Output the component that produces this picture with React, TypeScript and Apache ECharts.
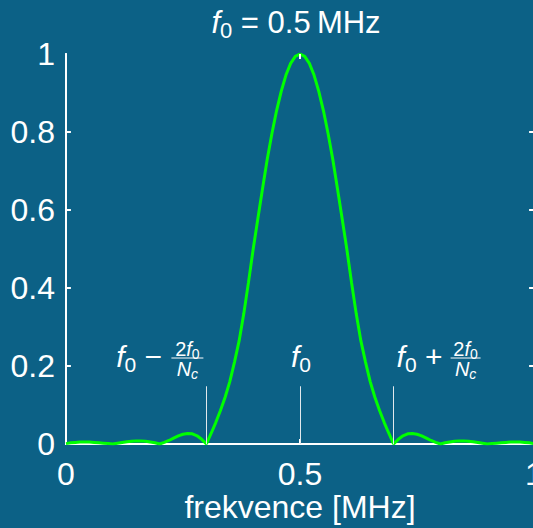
import React, { useEffect, useRef } from "react";
import * as echarts from "echarts";

// frequency samples [MHz]
const freq = [
  0.0, 0.01, 0.02, 0.03, 0.04, 0.05, 0.06, 0.07, 0.08, 0.09,
  0.1, 0.11, 0.12, 0.13, 0.14, 0.15, 0.16, 0.17, 0.18, 0.19,
  0.2, 0.21, 0.22, 0.23, 0.24, 0.25, 0.26, 0.27, 0.28, 0.29,
  0.3, 0.31, 0.32, 0.33, 0.34, 0.35, 0.36, 0.37, 0.38, 0.39,
  0.4, 0.41, 0.42, 0.43, 0.44, 0.45, 0.46, 0.47, 0.48, 0.49,
  0.5, 0.51, 0.52, 0.53, 0.54, 0.55, 0.56, 0.57, 0.58, 0.59,
  0.6, 0.61, 0.62, 0.63, 0.64, 0.65, 0.66, 0.67, 0.68, 0.69,
  0.7, 0.71, 0.72, 0.73, 0.74, 0.75, 0.76, 0.77, 0.78, 0.79,
  0.8, 0.81, 0.82, 0.83, 0.84, 0.85, 0.86, 0.87, 0.88, 0.89,
  0.9, 0.91, 0.92, 0.93, 0.94, 0.95, 0.96, 0.97, 0.98, 0.99,
  1.0,
];

// normalised spectrum magnitude
const spectrum = [
  0.001, 0.003, 0.004, 0.005, 0.005, 0.005, 0.004, 0.003, 0.002, 0.001,
  0.0, 0.002, 0.004, 0.006, 0.007, 0.008, 0.008, 0.007, 0.005, 0.003,
  0.0, 0.004, 0.009, 0.015, 0.021, 0.025, 0.027, 0.026, 0.021, 0.012,
  0.0, 0.027, 0.055, 0.086, 0.12, 0.16, 0.21, 0.265, 0.335, 0.415,
  0.5, 0.578, 0.655, 0.73, 0.796, 0.855, 0.905, 0.946, 0.976, 0.994,
  1.0, 0.994, 0.976, 0.946, 0.905, 0.855, 0.796, 0.73, 0.655, 0.578,
  0.5, 0.415, 0.335, 0.265, 0.21, 0.16, 0.12, 0.086, 0.055, 0.027,
  0.0, 0.012, 0.021, 0.026, 0.027, 0.025, 0.021, 0.015, 0.009, 0.004,
  0.0, 0.003, 0.005, 0.007, 0.008, 0.008, 0.007, 0.006, 0.004, 0.002,
  0.0, 0.001, 0.002, 0.003, 0.004, 0.005, 0.005, 0.005, 0.004, 0.003,
  0.001,
];

const xTickValues = [0, 0.5, 1];
const xTickLabels = ["0", "0.5", "1"];
const yTickValues = [0, 0.2, 0.4, 0.6, 0.8, 1];
const yTickLabels = ["0", "0.2", "0.4", "0.6", "0.8", "1"];
const markerFreqs = [0.3, 0.5, 0.7];
const markerHeight = 0.148;
const labelLevel = 0.2;
const titleFreq = "0.5";
const xName = "frekvence [MHz]";

const BG = "#0c6186";
const FONT = '"Liberation Sans", Arial, Helvetica, sans-serif';
const TICK_X = 0.0105; // inward tick length along x (data units)
const TICK_Y = 0.013; // inward tick length along y (data units)

type Tok = { t: string; size: number; italic?: boolean; dy?: number };

export default function App() {
  const ref = useRef<HTMLDivElement>(null);

  useEffect(() => {
    document.body.style.margin = "0";
    document.body.style.background = BG;
    const chart = echarts.init(ref.current!, null, { renderer: "svg" });

    const axisText = { color: "#ffffff", fontSize: 32, fontFamily: FONT };
    const white = { color: "#ffffff", width: 2 };
    const noTick = { show: false };

    // inward tick marks built from the tick values
    const tickLines: any[] = [];
    yTickValues.slice(1, -1).forEach((v) => {
      tickLines.push([{ coord: [0, v] }, { coord: [TICK_X, v] }]);
      tickLines.push([{ coord: [1 - TICK_X, v] }, { coord: [1, v] }]);
    });
    xTickValues.slice(1, -1).forEach((v) => {
      tickLines.push([{ coord: [v, 0] }, { coord: [v, TICK_Y] }]);
      tickLines.push([{ coord: [v, 1 - TICK_Y] }, { coord: [v, 1] }]);
    });

    chart.setOption({
      animation: false,
      backgroundColor: BG,
      grid: {
        left: 66,
        right: -1,
        top: 54,
        bottom: 84,
        containLabel: false,
        outerBoundsMode: "none",
      },
      xAxis: [
        {
          type: "value",
          min: 0,
          max: 1,
          interval: 0.5,
          position: "bottom",
          axisLine: { show: true, lineStyle: white },
          axisTick: noTick,
          splitLine: { show: false },
          axisLabel: {
            ...axisText,
            margin: 14,
            formatter: (v: number) => xTickLabels[xTickValues.indexOf(v)] ?? "",
          },
          name: xName,
          nameLocation: "middle",
          nameGap: 47,
          nameMoveOverlap: false,
          nameTextStyle: axisText,
        },
        {
          type: "value",
          min: 0,
          max: 1,
          interval: 0.5,
          position: "top",
          axisLine: { show: true, lineStyle: white },
          axisTick: noTick,
          splitLine: { show: false },
          axisLabel: { show: false },
        },
      ],
      yAxis: [
        {
          type: "value",
          min: 0,
          max: 1,
          interval: 0.2,
          position: "left",
          axisLine: { show: true, lineStyle: white },
          axisTick: noTick,
          splitLine: { show: false },
          axisLabel: {
            ...axisText,
            margin: 11,
            formatter: (v: number) => yTickLabels[Math.round(v * 5)] ?? "",
          },
        },
        {
          type: "value",
          min: 0,
          max: 1,
          interval: 0.2,
          position: "right",
          axisLine: { show: true, lineStyle: white },
          axisTick: noTick,
          splitLine: { show: false },
          axisLabel: { show: false },
        },
      ],
      series: [
        {
          type: "line",
          xAxisIndex: 0,
          yAxisIndex: 0,
          data: [],
          silent: true,
          markLine: {
            silent: true,
            symbol: "none",
            label: { show: false },
            lineStyle: { color: "#ffffff", width: 2, type: "solid" },
            data: tickLines,
          },
        },
        {
          type: "line",
          xAxisIndex: 0,
          yAxisIndex: 0,
          data: freq.map((f, i) => [f, spectrum[i]]),
          showSymbol: false,
          symbol: "none",
          lineStyle: { color: "#00ff00", width: 3 },
          z: 3,
          markLine: {
            silent: true,
            symbol: "none",
            label: { show: false },
            lineStyle: { color: "#e2e8ec", width: 1, type: "solid" },
            data: markerFreqs.map((f) => [
              { coord: [f, 0] },
              { coord: [f, markerHeight] },
            ]),
          },
        },
      ],
    });

    // --- math text layout -------------------------------------------------
    const cv = document.createElement("canvas");
    const ctx = cv.getContext("2d")!;
    const fontStr = (k: Tok) =>
      `${k.italic ? "italic " : ""}${k.size}px ${FONT}`;
    const measure = (k: Tok) => {
      ctx.font = fontStr(k);
      return ctx.measureText(k.t).width;
    };
    const layout = (
      toks: Tok[],
      x: number,
      baseline: number,
      align: "left" | "right" | "center"
    ) => {
      const widths = toks.map(measure);
      const total = widths.reduce((a, b) => a + b, 0);
      let cx = align === "left" ? x : align === "right" ? x - total : x - total / 2;
      const els: any[] = [];
      toks.forEach((k, i) => {
        const yb = baseline + (k.dy ?? 0);
        els.push({
          type: "text",
          x: cx,
          y: yb - 0.3465 * k.size,
          z: 10,
          style: {
            text: k.t,
            fontSize: k.size,
            fontFamily: FONT,
            fontStyle: k.italic ? "italic" : "normal",
            fill: "#ffffff",
            textAlign: "left",
            textVerticalAlign: "middle",
            verticalAlign: "middle",
          },
        });
        cx += widths[i];
      });
      return els;
    };

    const toPx = (x: number, y: number) =>
      chart.convertToPixel({ gridIndex: 0 }, [x, y]) as number[];

    const els: any[] = [];
    const f0 = (size: number, sub: number, drop: number): Tok[] => [
      { t: "f", size, italic: true },
      { t: "0", size: sub, dy: drop },
    ];

    // title
    const topMid = toPx(0.5, 1);
    els.push(
      ...layout(
        [...f0(31, 22, 5), { t: " = " + titleFreq + "\u2009MHz", size: 31 }],
        topMid[0] - 4,
        33,
        "center"
      )
    );

    const lvl = toPx(0, labelLevel)[1];
    const fraction = (cx: number, half: number) => {
      const out: any[] = [];
      out.push(
        ...layout(
          [
            { t: "2", size: 20 },
            { t: "f", size: 20, italic: true },
            { t: "0", size: 14, dy: 3 },
          ],
          cx,
          lvl - 10,
          "center"
        )
      );
      out.push({
        type: "line",
        z: 10,
        shape: { x1: cx - half, y1: lvl - 8, x2: cx + half, y2: lvl - 8 },
        style: { stroke: "#ffffff", lineWidth: 1 },
      });
      out.push(
        ...layout(
          [
            { t: "N", size: 20, italic: true },
            { t: "c", size: 14, italic: true, dy: 3 },
          ],
          cx,
          lvl + 10,
          "center"
        )
      );
      return out;
    };

    // left marker label: f0 - 2f0/Nc
    const pl = toPx(markerFreqs[0], 0)[0];
    els.push(
      ...layout([...f0(30, 21, 5), { t: " \u2212 ", size: 30 }], pl - 36, lvl + 1, "right")
    );
    els.push(...fraction(pl - 19, 16));

    // centre label: f0
    const pc = toPx(markerFreqs[1], 0)[0];
    els.push(...layout(f0(30, 21, 5), pc + 1, lvl + 1, "center"));

    // right marker label: f0 + 2f0/Nc
    const pr = toPx(markerFreqs[2], 0)[0];
    els.push(
      ...layout([...f0(30, 21, 5), { t: " + ", size: 30 }], pr + 3, lvl + 1, "left")
    );
    els.push(...fraction(pr + 72, 15));

    chart.setOption({ graphic: els });

    return () => chart.dispose();
  }, []);

  return <div ref={ref} style={{ width: 533, height: 528, background: BG }} />;
}
